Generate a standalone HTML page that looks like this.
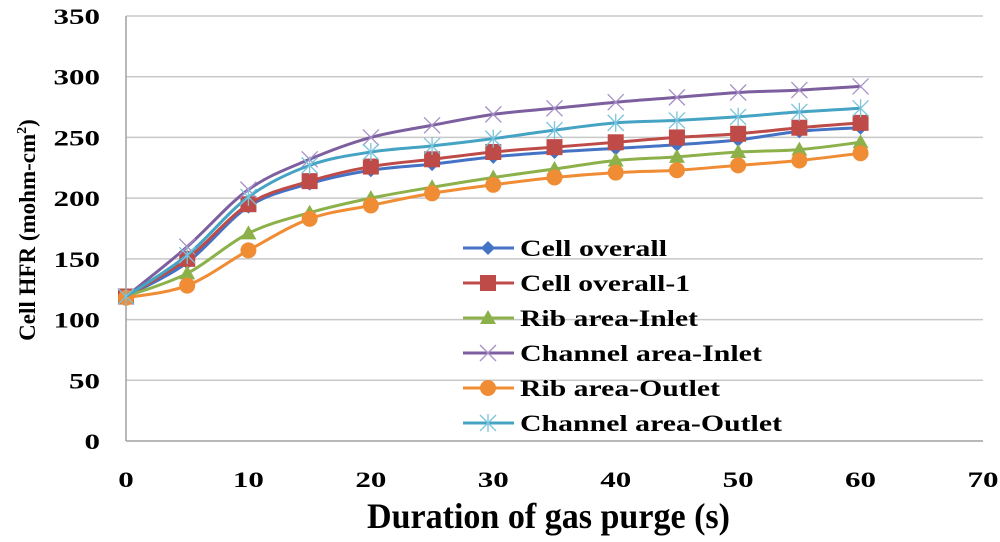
<!DOCTYPE html>
<html><head><meta charset="utf-8"><style>
html,body{margin:0;padding:0;background:#fff;}
svg{display:block;font-family:"Liberation Serif",serif;font-weight:bold;}
</style></head><body>
<svg id="chart" width="1000" height="542"></svg>
<script>
const xTicks=[0,10,20,30,40,50,60,70];
const yTicks=[0,50,100,150,200,250,300,350];
const times=[0,5,10,15,20,25,30,35,40,45,50,55,60];
const seriesNames=["Cell overall","Cell overall-1","Rib area-Inlet","Channel area-Inlet","Rib area-Outlet","Channel area-Outlet"];
const cellOverall=[119,147,193,212,223,228,234,238,241,244,248,255,258];
const cellOverall1=[119,150,195,214,226,232,238,242,246,250,253,258,262];
const ribInlet=[119,138,171,188,200,209,217,224,231,234,238,240,246];
const channelInlet=[119,160,207,232,250,260,269,274,279,283,287,289,292];
const ribOutlet=[118,128,157,183,194,204,211,217,221,223,227,231,237];
const channelOutlet=[119,153,201,227,238,243,249,256,262,264,267,271,274];
const allSeries=[cellOverall,cellOverall1,ribInlet,channelInlet,ribOutlet,channelOutlet];
const colors=["#4472c4","#be4b48","#8cb14a","#7d5fa0","#f08c33","#45a3c4"];
const markers=["diamond","square","triangle","x","circle","star"];
const legendTextWidths=[147,170,178,242,200,262];

const NS="http://www.w3.org/2000/svg";
const svg=document.getElementById('chart');
const X0=126,X1=983,Y0=441,Y1=16;
const xs=v=>X0+(v-0)/(70-0)*(X1-X0);
const ys=v=>Y0-(v-0)/(350-0)*(Y0-Y1);
function el(tag,attrs,parent){const e=document.createElementNS(NS,tag);for(const k in attrs)e.setAttribute(k,attrs[k]);(parent||svg).appendChild(e);return e;}

yTicks.forEach(t=>{
  if(t===0)return;
  const g=el('line',{x1:X0,x2:X1,y1:ys(t),y2:ys(t),stroke:'#c8c8c8','stroke-width':1.5});
  
  
});
const ax=el('line',{x1:X0,x2:X1,y1:Y0,y2:Y0,stroke:'#a0a0a0','stroke-width':1.5});


const ay=el('line',{x1:X0,x2:X0,y1:Y1,y2:Y0,stroke:'#a0a0a0','stroke-width':1.5});


yTicks.forEach(t=>{
  const s=String(t);
  const tx=el('text',{x:100,y:ys(t)+8,'text-anchor':'end','font-size':22,textLength:s.length*15.5,lengthAdjust:'spacingAndGlyphs'});
  tx.textContent=s;
  
  
});
xTicks.forEach(t=>{
  const s=String(t);
  const tx=el('text',{x:xs(t),y:487,'text-anchor':'middle','font-size':22,textLength:s.length*15.5,lengthAdjust:'spacingAndGlyphs'});
  tx.textContent=s;
  
  
});
const xt=el('text',{x:367,y:528,'font-size':36,textLength:363,lengthAdjust:'spacingAndGlyphs'});
xt.textContent='Duration of gas purge (s)';


const yt=el('text',{x:0,y:0,'text-anchor':'middle','font-size':23,transform:'translate(35,230) rotate(-90)'});
yt.innerHTML='Cell HFR (mohm-cm<tspan dy="-9" font-size="14">2</tspan><tspan dy="9">)</tspan>';



function smoothPath(pts){
  let d='M'+pts[0][0]+','+pts[0][1];
  for(let i=0;i<pts.length-1;i++){
    const p0=pts[Math.max(0,i-1)],p1=pts[i],p2=pts[i+1],p3=pts[Math.min(pts.length-1,i+2)];
    const t=1/6;
    const c1=[p1[0]+(p2[0]-p0[0])*t,p1[1]+(p2[1]-p0[1])*t];
    const c2=[p2[0]-(p3[0]-p1[0])*t,p2[1]-(p3[1]-p1[1])*t];
    d+=` C${c1[0]},${c1[1]} ${c2[0]},${c2[1]} ${p2[0]},${p2[1]}`;
  }
  return d;
}
function marker(type,x,y,c,g){
  let m;
  if(type==='diamond') m=el('polygon',{points:`${x},${y-7} ${x+7},${y} ${x},${y+7} ${x-7},${y}`,fill:c},g);
  else if(type==='square') m=el('rect',{x:x-8,y:y-8,width:16,height:16,fill:c},g);
  else if(type==='triangle') m=el('polygon',{points:`${x},${y-8} ${x+8},${y+6} ${x-8},${y+6}`,fill:c},g);
  else if(type==='circle') m=el('circle',{cx:x,cy:y,r:8,fill:c},g);
  else if(type==='x') m=el('path',{d:`M${x-8},${y-8}L${x+8},${y+8}M${x-8},${y+8}L${x+8},${y-8}`,stroke:'#a890c8','stroke-width':1.3,fill:'none'},g);
  else m=el('path',{d:`M${x-8},${y-8}L${x+8},${y+8}M${x-8},${y+8}L${x+8},${y-8}M${x},${y-9}L${x},${y+9}`,stroke:'#7ac4dc','stroke-width':1.3,fill:'none'},g);
  return m;
}
allSeries.forEach((vals,si)=>{
  const g=el('g',{});
  
  
  const pts=vals.map((v,i)=>[xs(times[i]),ys(v)]);
  const p=el('path',{d:smoothPath(pts),stroke:colors[si],'stroke-width':3,fill:'none'},g);
  
  
  pts.forEach(pt=>{
    const m=marker(markers[si],pt[0],pt[1],colors[si],g);
    
    
  });
});
const lg=el('g',{});


seriesNames.forEach((n,i)=>{
  const y=248+i*35;
  const e=el('g',{},lg);
  
  
  el('line',{x1:463,x2:514,y1:y,y2:y,stroke:colors[i],'stroke-width':3},e);
  marker(markers[i],488,y,colors[i],e);
  const t=el('text',{x:520,y:y+8,'font-size':23,textLength:legendTextWidths[i],lengthAdjust:'spacingAndGlyphs'},e);
  t.textContent=n;
});
</script>
</body></html>
